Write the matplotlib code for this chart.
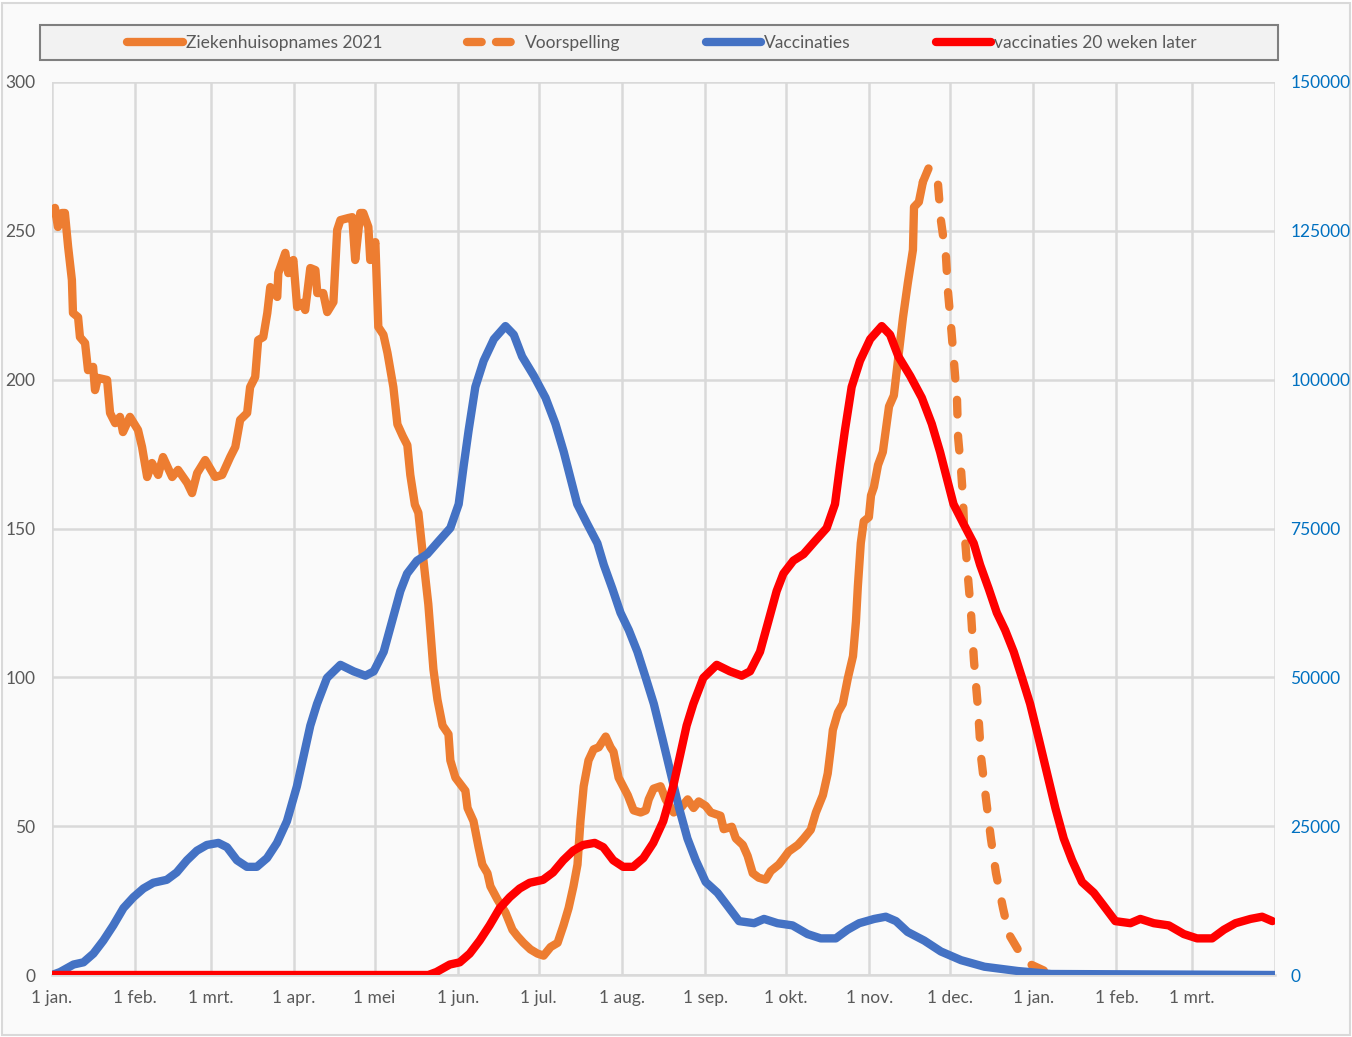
import numpy as np
import pandas as pd
import matplotlib
matplotlib.use('Agg')
import matplotlib.pyplot as plt
from matplotlib.lines import Line2D
from matplotlib.patches import Rectangle

plt.rcParams['font.family'] = ['Lato', 'DejaVu Sans']

START = pd.Timestamp('2021-01-01')
END = pd.Timestamp('2022-04-01')

# Ziekenhuisopnames 2021: dagen na 1 jan 2021 en waarde (linker as)
opname_dag = [0.4, 1.1, 2.2, 3.7, 4.8, 6.0, 7.4, 7.8, 9.7, 10.4, 12.3, 13.4, 15.3, 16.0, 17.1,
              20.5, 21.6, 23.5, 25.3, 26.4, 29.0, 32.0, 33.5, 35.4, 37.2, 39.5, 41.3, 44.7,
              46.9, 50.3, 52.1, 54.0, 57.0, 60.7, 63.3, 66.3, 68.2, 70.0, 72.6, 73.7, 75.6,
              76.7, 78.6, 80.1, 81.2, 83.8, 84.2, 86.8, 87.9, 89.8, 91.2, 93.1, 94.2, 96.1,
              98.0, 98.7, 100.9, 102.4, 104.7, 106.1, 107.3, 110.2, 111.7, 112.8, 114.7,
              115.8, 117.7, 118.4, 120.3, 121.4, 123.3, 124.8, 127.0, 128.5, 130.5, 132.2,
              133.3, 135.0, 136.3, 138.2, 140.0, 141.9, 143.4, 145.3, 147.5, 148.2, 150.1,
              153.8, 154.6, 156.8, 158.7, 160.1, 162.0, 163.1, 165.7, 168.7, 171.3, 173.2,
              175.4, 178.0, 180.6, 182.9, 185.5, 188.1, 190.3, 192.2, 194.0, 195.5, 196.6,
              197.8, 199.6, 201.5, 203.4, 206.0, 207.8, 208.9, 210.8, 214.2, 216.4, 219.0,
              220.9, 222.0, 223.8, 226.4, 228.3, 231.3, 233.9, 236.5, 238.7, 240.6, 243.2,
              245.1, 248.7, 249.9, 252.9, 254.4, 257.0, 258.8, 260.7, 262.9, 265.5, 267.4,
              270.4, 272.3, 274.1, 277.5, 279.7, 282.3, 284.2, 286.8, 288.6, 289.8, 290.5,
              292.4, 294.2, 296.1, 298.0, 299.1, 299.8, 300.9, 302.0, 303.9, 304.7, 305.8,
              307.3, 309.1, 310.2, 311.4, 313.2, 315.1, 316.6, 318.4, 320.3, 320.7, 322.5, 324.0]
opname = [256.0, 257.7, 251.3, 256, 256, 244.6, 233.5, 222.4, 221, 214.3, 212.3, 203.2, 204.3,
          196.5, 200.6, 199.9, 188.8, 185.4, 187.5, 182.4, 187.5, 183.1, 177.4, 167.3, 172,
          168, 174, 167.3, 169.7, 165.3, 161.9, 168.6, 173, 167.3, 168, 174, 177.4, 186.5,
          188.8, 197.5, 200.9, 213.3, 214.3, 222.4, 231.1, 227.8, 235.8, 242.6, 235.8, 240.2,
          224.4, 225.8, 223.4, 237.5, 236.8, 229.1, 229.1, 222.7, 226.1, 250.3, 253.6, 254.3,
          254.6, 240.2, 256, 256, 251.3, 240.2, 246.2, 217.7, 215.1, 209, 197.5, 185, 181,
          178, 168, 158, 155.3, 139.2, 124.6, 102.7, 92.5, 83.8, 80.9, 72.1, 66.3, 61.9,
          56.1, 51.7, 42.9, 37.1, 34.2, 29.8, 25.4, 21, 15.2, 13, 10.8, 8.6, 7.2, 6.5, 9.4,
          10.8, 16.7, 22.5, 29.8, 37.1, 51.7, 63.4, 72.1, 75.8, 76.5, 80.1, 76.5, 75, 66.3,
          60.4, 55.3, 54.6, 55.3, 59, 62.6, 63.4, 59, 54.6, 56.1, 59, 56.1, 58.3, 56.8, 54.6,
          53.5, 49, 49.8, 45.9, 43.7, 40, 34.2, 32.7, 32, 34.9, 37.1, 39.3, 41.5, 43.7, 45.9,
          48.8, 54.6, 60.4, 67.7, 76.5, 82.3, 88.2, 91.1, 99.8, 107.1, 118.8, 130.5, 145.1,
          152.4, 153.8, 161.1, 164, 171.3, 175.7, 183, 191, 194.7, 209.3, 220.9, 232.5,
          243.6, 258, 259.7, 266.4]

# Voorspelling (linker as)
voorspel_dag = [324.0, 326.3, 329.6, 330.7, 332.6, 333.3, 334.5, 335.6, 336.7, 337.1, 338.2,
                338.9, 339.3, 340.8, 341.9, 343.0, 344.5, 345.6, 347.5, 349.3, 351.2, 353.8,
                356.0, 359.8, 364.2, 369.0]
voorspel = [266.4, 271.4, 266, 253.6, 241.2, 230, 217.7, 205.6, 193.2, 180.7, 169.7, 160.6,
            150.9, 133.4, 121.7, 105.7, 89.6, 73.6, 59, 45.9, 34.2, 22.5, 13.7, 7.9, 3.5, 1.5]

# Vaccinaties per dag (rechter as)
vacc_dag = [0, 3, 8, 11.7, 15.4, 19.1, 22.8, 26.6, 30.3, 34, 37.7, 42.7, 46.4, 50.2, 53.9,
            57.6, 61.9, 65.1, 68.8, 72.5, 76.2, 80, 83.7, 87.4, 91.1, 93.6, 96.1, 98.6, 102.3,
            107.3, 112.2, 116.6, 119.7, 123.4, 126.5, 129.6, 132.1, 135.8, 139.6, 143.9,
            148.2, 151.3, 153.2, 155, 157.5, 160.6, 164.4, 168.7, 171.8, 174.9, 179.3, 183.6,
            187.3, 190.4, 192.9, 195.4, 199.1, 202.9, 205.3, 208.5, 211.5, 214.6, 217.8,
            220.9, 223.9, 227.1, 230.2, 233.3, 236.4, 239.5, 243.2, 247.6, 251.3, 255.6,
            261.2, 264.9, 269.9, 275.5, 281.1, 286, 291.6, 296, 300.3, 305.9, 310.2, 314,
            318.3, 324.5, 330.7, 338.2, 346.9, 359.3, 371.7, 455]
vacc = [0, 500, 1760, 2130, 3590, 5780, 8330, 11250, 13070, 14530, 15490, 15990, 17230,
        19270, 20880, 21840, 22190, 21470, 19270, 18170, 18170, 19640, 22190, 25830, 31680,
        36780, 41890, 45540, 49900, 52100, 51010, 50270, 51010, 54290, 59390, 64500, 67420,
        69600, 70690, 72900, 75080, 79090, 85660, 91490, 98780, 103170, 106810, 109000,
        107550, 103890, 100610, 96970, 92580, 87850, 83460, 79090, 75800, 72520, 68880,
        64870, 60850, 57930, 54290, 49900, 45540, 39690, 33860, 28030, 22930, 19270, 15620,
        13810, 11620, 9050, 8700, 9420, 8700, 8330, 6870, 6150, 6150, 7610, 8700, 9420,
        9790, 9050, 7240, 5780, 3950, 2490, 1390, 670, 170, 0]

VERSCHUIVING = 7 * 20  # vaccinaties 20 weken later

maand_labels = ['1 jan.', '1 feb.', '1 mrt.', '1 apr.', '1 mei', '1 jun.', '1 jul.', '1 aug.',
                '1 sep.', '1 okt.', '1 nov.', '1 dec.', '1 jan.', '1 feb.', '1 mrt.', '']

ORANJE = '#ED7D31'
BLAUW = '#4472C4'
ROOD = '#FF0000'
GRID = '#D9D9D9'
TEKST = '#595959'

# rode reeks = vaccinaties 20 weken verschoven, daarvoor 0
later_dag = np.concatenate([[0], np.array(vacc_dag) + VERSCHUIVING])
later = np.concatenate([[0], vacc])
xmax = (END - START).days
mask = later_dag <= xmax
later_dag, later = later_dag[mask], later[mask]

fig = plt.figure(figsize=(13.52, 10.37), dpi=100, facecolor='white')
fig.patches.append(Rectangle((0.0015, 0.0015), 0.997, 0.996, transform=fig.transFigure,
                             facecolor='#FAFAFA', edgecolor=GRID, linewidth=1.5, zorder=-10))

ax = fig.add_axes([52 / 1352, 1 - 975 / 1037, (1275 - 52) / 1352, (975 - 82) / 1037])
ax.set_facecolor('none')
ax2 = ax.twinx()

lw = 6
ax.plot(opname_dag, opname, color=ORANJE, lw=lw, solid_joinstyle='round',
        solid_capstyle='round')
ax.plot(voorspel_dag, voorspel, color=ORANJE, lw=lw, dashes=(1.76, 2.56),
        dash_capstyle='round', dash_joinstyle='round')
ax2.plot(vacc_dag, vacc, color=BLAUW, lw=lw, solid_joinstyle='round', solid_capstyle='round')
ax2.plot(later_dag, later, color=ROOD, lw=lw, solid_joinstyle='round', solid_capstyle='round')

ax.set_xlim(0, xmax)
ax.set_ylim(0, 300)
ax2.set_ylim(0, 150000)
ax.set_yticks(np.arange(0, 301, 50))
ax2.set_yticks(np.arange(0, 150001, 25000))

maanden = pd.date_range(START, END, freq='MS')
ax.set_xticks([(m - START).days for m in maanden])
ax.set_xticklabels(maand_labels)

ax.grid(True, color=GRID, lw=1.8)
ax.set_axisbelow(True)
for a in (ax, ax2):
    for s in a.spines.values():
        s.set_visible(False)
ax.spines['bottom'].set_visible(True)
ax.spines['bottom'].set_color(GRID)
ax.spines['bottom'].set_linewidth(1.8)

ax.tick_params(axis='x', length=0, pad=11, labelsize=12.5, labelcolor=TEKST)
ax.tick_params(axis='y', length=0, pad=12, labelsize=12.5, labelcolor=TEKST)
ax2.tick_params(axis='y', length=0, pad=11, labelsize=12.5, labelcolor='#0070C0')

# legenda met grijze kader
fig.patches.append(Rectangle((40 / 1352, 1 - 60 / 1037), (1278 - 40) / 1352, 35 / 1037,
                             transform=fig.transFigure, facecolor='#F2F2F2',
                             edgecolor='#7F7F7F', linewidth=1.5, zorder=5))
handles = [Line2D([], [], color=ORANJE, lw=lw, solid_capstyle='round'),
           Line2D([], [], color=ORANJE, lw=lw, dashes=(1.76, 1.72), dash_capstyle='round'),
           Line2D([], [], color=BLAUW, lw=lw, solid_capstyle='round'),
           Line2D([], [], color=ROOD, lw=lw, solid_capstyle='round')]
labels = ['Ziekenhuisopnames 2021', 'Voorspelling', 'Vaccinaties', 'vaccinaties 20 weken later']
leg = fig.legend(handles, labels, loc='center', bbox_to_anchor=(662 / 1352, 1 - 43 / 1037),
                 ncol=4, frameon=False, fontsize=12.5, handlelength=3.2, handletextpad=0.15,
                 columnspacing=4.9, labelcolor=TEKST)
leg.set_zorder(6)

fig.savefig('out.png', dpi=100, facecolor='white')
